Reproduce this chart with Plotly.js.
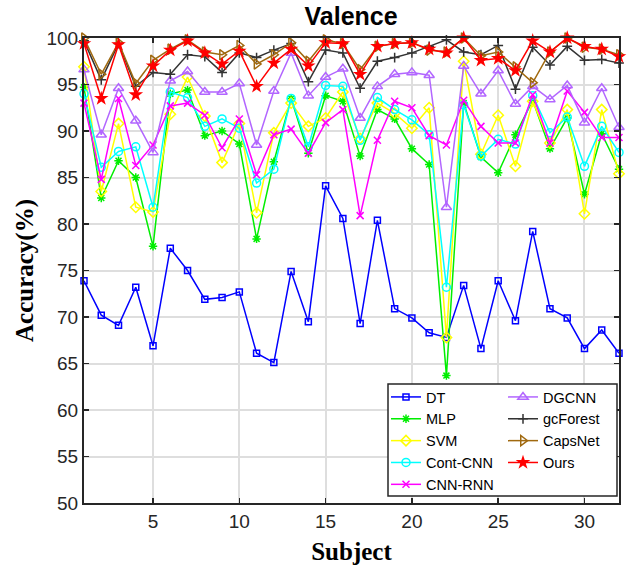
<!DOCTYPE html>
<html>
<head>
<meta charset="utf-8">
<script src="https://cdn.plot.ly/plotly-3.0.1.min.js"></script>
<style>body{margin:0;padding:0;background:#fff}#chart{width:627px;height:566px}</style>
</head>
<body>
<div id="chart"></div>
<script>
const subjects = Array.from({length: 32}, (_, i) => i + 1);
const seriesNames = ["DT", "MLP", "SVM", "Cont-CNN", "CNN-RNN", "DGCNN", "gcForest", "CapsNet", "Ours"];

const DT = [73.9, 70.2, 69.1, 73.2, 66.9, 77.4, 75.0, 71.9, 72.1, 72.7, 66.1, 65.1, 74.9, 69.5, 84.1, 80.6, 69.3, 80.4, 70.9, 69.9, 68.3, 67.8, 73.4, 66.6, 73.9, 69.6, 79.2, 70.9, 69.9, 66.6, 68.6, 66.1];
const MLP = [94.7, 82.8, 86.8, 85.0, 77.6, 94.0, 94.4, 89.5, 90.0, 88.6, 78.4, 86.7, 93.5, 87.6, 93.8, 93.2, 87.3, 92.3, 91.3, 88.1, 86.4, 63.7, 93.0, 87.2, 85.5, 89.6, 93.3, 88.1, 91.4, 83.2, 89.7, 85.9];
const SVM = [96.9, 83.5, 90.8, 81.8, 81.3, 91.8, 95.8, 91.6, 86.6, 90.8, 81.2, 89.8, 93.0, 90.5, 91.4, 94.2, 89.2, 93.0, 91.9, 90.3, 92.5, 67.8, 97.5, 87.5, 91.7, 86.2, 93.2, 88.7, 92.3, 81.1, 92.3, 85.4];
const ContCNN = [94.0, 86.1, 87.8, 88.3, 81.8, 94.2, 93.6, 90.5, 91.3, 90.3, 84.4, 85.9, 93.5, 88.3, 94.9, 94.8, 89.0, 93.6, 92.3, 91.2, 89.6, 73.2, 92.8, 87.3, 89.1, 88.6, 93.8, 89.8, 91.5, 86.2, 90.5, 87.7];
const CNNRNN = [93.0, 84.8, 93.5, 86.3, 88.5, 92.7, 93.0, 91.7, 88.2, 91.3, 85.3, 89.6, 90.2, 87.6, 90.9, 92.3, 80.9, 89.0, 93.2, 92.5, 89.5, 88.5, 93.3, 90.5, 88.7, 88.7, 93.9, 88.7, 94.3, 92.0, 89.3, 89.3];
const DGCNN = [96.6, 89.6, 94.6, 91.1, 87.7, 95.4, 96.4, 94.2, 94.2, 95.1, 88.5, 94.3, 98.4, 93.8, 95.8, 96.7, 91.4, 94.8, 96.1, 96.3, 96.0, 81.8, 97.0, 94.0, 96.5, 92.9, 94.8, 93.4, 94.9, 90.9, 94.6, 90.4];
const gcForest = [99.7, 95.5, 99.4, 94.8, 96.3, 96.1, 98.2, 98.0, 96.3, 98.4, 97.9, 98.7, 99.4, 95.3, 98.7, 98.4, 94.6, 97.5, 97.9, 98.4, 99.1, 99.8, 98.5, 98.2, 99.2, 94.5, 99.0, 97.1, 99.1, 97.6, 97.7, 97.3];
const CapsNet = [100, 96.1, 99.5, 95.1, 97.6, 98.8, 99.8, 98.5, 98.2, 99.2, 97.2, 98.2, 99.5, 97.5, 99.8, 99.4, 96.6, 99.1, 99.4, 99.5, 98.7, 98.5, 100, 98.1, 98.5, 96.9, 95.2, 98.5, 100, 99.0, 98.8, 98.2];
const Ours = [99.4, 93.5, 99.3, 93.9, 97.0, 98.7, 99.7, 98.4, 97.2, 98.6, 94.8, 97.3, 98.8, 97.0, 99.5, 99.4, 96.1, 99.1, 99.4, 99.5, 98.8, 98.4, 100, 97.6, 97.8, 96.5, 99.7, 98.5, 100, 99.1, 98.8, 98.0];

const yTicks = [50, 55, 60, 65, 70, 75, 80, 85, 90, 95, 100];
const xTicks = [5, 10, 15, 20, 25, 30];

const values = [DT, MLP, SVM, ContCNN, CNNRNN, DGCNN, gcForest, CapsNet, Ours];
const styles = [
  {color: "#0000ff", symbol: "square-open", size: 6},
  {color: "#00ee00", symbol: "asterisk-open", size: 7},
  {color: "#ffff00", symbol: "diamond-open", size: 8},
  {color: "#00ffff", symbol: "circle-open", size: 8},
  {color: "#ff00ff", symbol: "x-thin-open", size: 7},
  {color: "#b266ff", symbol: "triangle-up-open", size: 9},
  {color: "#333333", symbol: "cross-thin-open", size: 7},
  {color: "#a0690f", symbol: "triangle-right-open", size: 9},
  {color: "#ff0000", symbol: "star", size: 11}
];

const traces = seriesNames.map((name, i) => {
  const s = styles[i];
  return {
    x: subjects, y: values[i], name: name, type: "scatter", mode: "lines+markers",
    cliponaxis: false,
    line: {color: s.color, width: 1.5},
    marker: {symbol: s.symbol, size: s.size, color: s.color, line: {color: s.color, width: s.symbol === "star" ? 0 : 1.5}},
    legend: i < 5 ? "legend" : "legend2"
  };
});

const tickFont = {family: "Liberation Sans, Arial, sans-serif", size: 19, color: "#262626"};
const legFont = {family: "Liberation Sans, Arial, sans-serif", size: 14.5, color: "#000"};

const layout = {
  width: 627, height: 566,
  margin: {l: 84, r: 8, t: 38, b: 63},
  paper_bgcolor: "#fff", plot_bgcolor: "#fff",
  title: {text: "<b>Valence</b>", font: {family: "Liberation Sans, Arial, sans-serif", size: 25, color: "#000"}, x: 0.56, xanchor: "center", y: 0.972, yanchor: "middle"},
  xaxis: {
    range: [1, 32], tickvals: xTicks, ticks: "inside", ticklen: 5, tickwidth: 1.5, tickcolor: "#262626",
    showline: true, linecolor: "#262626", linewidth: 2, mirror: "ticks",
    showgrid: true, gridcolor: "#dedede", gridwidth: 2, zeroline: false,
    tickfont: tickFont,
    title: {text: "<b>Subject</b>", font: {family: "Liberation Serif, Times New Roman, serif", size: 25, color: "#000"}, standoff: 12}
  },
  yaxis: {
    range: [50, 100], tickvals: yTicks, ticks: "inside", ticklen: 5, tickwidth: 1.5, tickcolor: "#262626",
    showline: true, linecolor: "#262626", linewidth: 2, mirror: "ticks",
    showgrid: true, gridcolor: "#dedede", gridwidth: 2, zeroline: false,
    tickfont: tickFont,
    title: {text: "<b>Accuracy(%)</b>", font: {family: "Liberation Serif, Times New Roman, serif", size: 25, color: "#000"}, standoff: 6}
  },
  shapes: [{
    type: "rect", xref: "paper", yref: "paper", layer: "above",
    x0: (388 - 84) / 535, x1: (617 - 84) / 535, y0: (503 - 496) / 465, y1: (503 - 384) / 465,
    line: {color: "#262626", width: 1.5}, fillcolor: "#ffffff"
  }],
  legend: {
    x: (386 - 84) / 535, xanchor: "left", y: (503 - 381) / 465, yanchor: "top",
    bgcolor: "rgba(0,0,0,0)", borderwidth: 0, font: legFont, tracegroupgap: 0, itemwidth: 30
  },
  legend2: {
    x: (503 - 84) / 535, xanchor: "left", y: (503 - 381) / 465, yanchor: "top",
    bgcolor: "rgba(0,0,0,0)", borderwidth: 0, font: legFont, tracegroupgap: 0, itemwidth: 30
  },
  showlegend: true
};

Plotly.newPlot("chart", traces, layout, {displayModeBar: false, staticPlot: true});
</script>
</body>
</html>
